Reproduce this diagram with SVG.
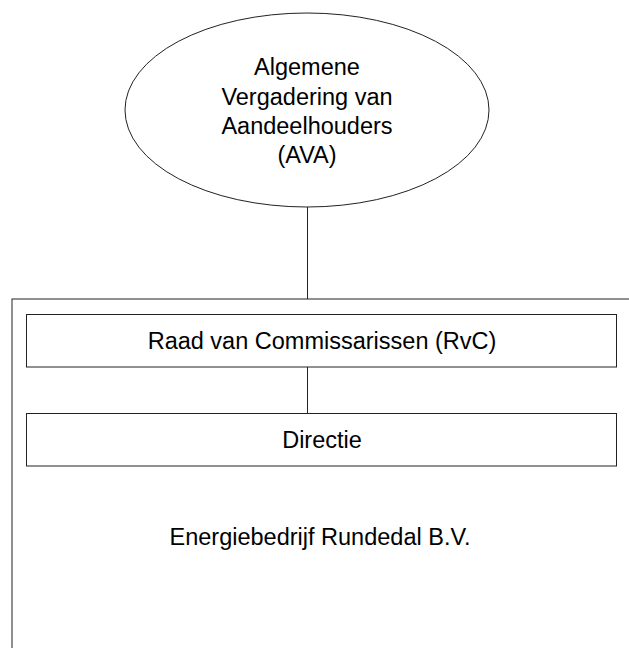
<svg xmlns="http://www.w3.org/2000/svg" width="629" height="648" viewBox="0 0 629 648">
<style>
.s{fill:#fff;stroke:#222;stroke-width:1}
.c{fill:none;stroke:#222;stroke-width:1}
.t{font-family:"Liberation Sans",Arial,sans-serif;font-size:23.5px;fill:#000;text-anchor:middle}
</style>
<rect width="629" height="648" fill="#fff"/>
<g id="company">
<rect class="s" x="12" y="299" width="640" height="380"/>
<text class="t" x="320" y="545">Energiebedrijf Rundedal B.V.</text>
</g>
<g id="connectors">
<line class="c" x1="307.5" y1="207" x2="307.5" y2="299"/>
<line class="c" x1="307.5" y1="367" x2="307.5" y2="413.5"/>
</g>
<g id="ava">
<ellipse class="s" cx="307" cy="110" rx="182" ry="97"/>
<text class="t" x="307" y="75">Algemene</text>
<text class="t" x="307" y="105">Vergadering van</text>
<text class="t" x="307" y="134">Aandeelhouders</text>
<text class="t" x="307" y="163">(AVA)</text>
</g>
<g id="rvc">
<rect class="s" x="26.5" y="314.5" width="590" height="52.5"/>
<text class="t" x="322" y="349">Raad van Commissarissen (RvC)</text>
</g>
<g id="directie">
<rect class="s" x="26.5" y="413.5" width="590" height="52.5"/>
<text class="t" x="322" y="448">Directie</text>
</g>
</svg>
